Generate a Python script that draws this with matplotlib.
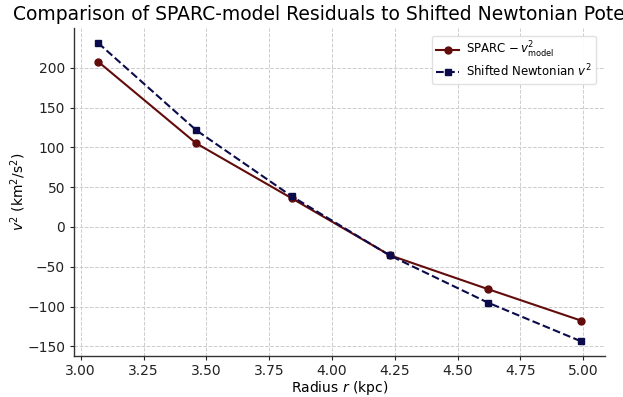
import matplotlib
matplotlib.use("Agg")
import matplotlib.pyplot as plt

radius = [3.07, 3.46, 3.84, 4.23, 4.62, 4.99]
sparc_resid = [207.5, 105.0, 36.0, -35.5, -78.0, -117.5]
shifted_newton = [231.0, 121.5, 38.5, -35.8, -95.0, -143.5]

fig = plt.figure(figsize=(6.23, 3.97), dpi=100)
ax = fig.add_axes([0.119, 0.103, 0.852, 0.826])

ax.plot(radius, sparc_resid, color="#620c0c", marker="o", markersize=5,
        linewidth=1.5, linestyle="-", label=r"SPARC $-\,v^2_{\mathrm{model}}$")
ax.plot(radius, shifted_newton, color="#0b0b4c", marker="s", markersize=5,
        linewidth=1.5, linestyle="--", label=r"Shifted Newtonian $v^2$")

ax.set_xticks([3.00, 3.25, 3.50, 3.75, 4.00, 4.25, 4.50, 4.75, 5.00])
ax.set_xticklabels(["3.00", "3.25", "3.50", "3.75", "4.00", "4.25", "4.50", "4.75", "5.00"])
ax.set_yticks([-150, -100, -50, 0, 50, 100, 150, 200])

ax.tick_params(labelsize=10, colors="#222222", length=3)
ax.tick_params(axis="x", pad=2.5)
ax.grid(True, linestyle="--", color="#cccccc", linewidth=0.7)
for s in ["top", "right"]:
    ax.spines[s].set_visible(False)
for s in ["left", "bottom"]:
    ax.spines[s].set_color("#333333")
    ax.spines[s].set_linewidth(1.0)

ax.set_xlabel(r"Radius $r$ (kpc)", fontsize=10, labelpad=1)
ax.set_ylabel(r"$v^2$ (km$^2$/s$^2$)", fontsize=10, labelpad=-1)
ax.set_title("Comparison of SPARC-model Residuals to Shifted Newtonian Potential", fontsize=13.5)
ax.legend(loc="upper right", fontsize=8.5, framealpha=0.9, edgecolor="#dddddd",
          labelspacing=0.25, borderpad=0.35, handlelength=2.0, handletextpad=0.6,
          bbox_to_anchor=(0.995, 0.995))

fig.savefig("out.png", dpi=100)
